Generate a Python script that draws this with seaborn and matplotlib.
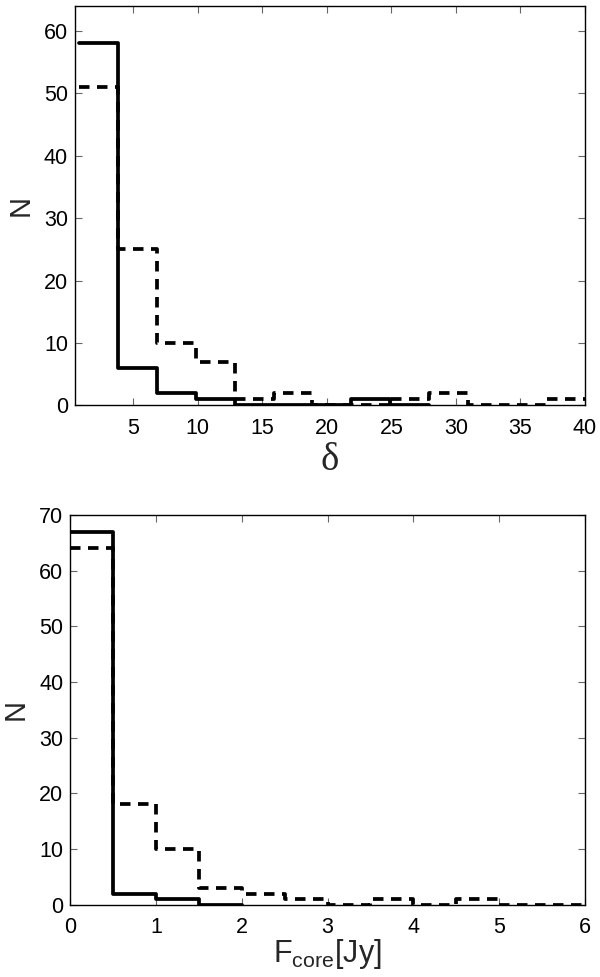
import numpy as np
import pandas as pd
import matplotlib
matplotlib.use("Agg")
import matplotlib.pyplot as plt
import seaborn as sns

# ---- data ----
delta_edges = [0.8, 3.815, 6.831, 9.846, 12.862, 15.877, 18.892, 21.908,
               24.923, 27.938, 30.954, 33.969, 36.985, 40.0]
delta_solid = [58, 6, 2, 1, 0, 0, 0, 1, 0]
delta_dashed = [51, 25, 10, 7, 1, 2, 0, 0, 1, 2, 0, 0, 1]

flux_edges = [0, 0.5, 1, 1.5, 2, 2.5, 3, 3.5, 4, 4.5, 5, 5.5, 6]
flux_solid = [67, 2, 1, 0]
flux_dashed = [64, 18, 10, 3, 2, 1, 0, 1, 0, 1, 0, 0]

sns.set_theme(style="white")
plt.rcParams['font.family'] = ['Liberation Sans', 'DejaVu Sans']
plt.rcParams['mathtext.default'] = 'regular'

fig = plt.figure(figsize=(6, 9.77), dpi=100)
ax1 = fig.add_axes([0.125, 0.585, 0.85, 0.409])
ax2 = fig.add_axes([0.117, 0.074, 0.858, 0.399])

def draw(ax, edges, solid, dashed):
    e = np.asarray(edges, dtype=float)
    centers = (e[:-1] + e[1:]) / 2
    d_df = pd.DataFrame({"x": centers[:len(dashed)], "w": np.asarray(dashed, dtype=float)})
    s_df = pd.DataFrame({"x": centers[:len(solid)], "w": np.asarray(solid, dtype=float)})
    sns.histplot(data=s_df, x="x", weights="w", bins=list(e[:len(solid) + 1]),
                 element="step", fill=False, color="black", lw=2.7, ax=ax)
    sns.histplot(data=d_df, x="x", weights="w", bins=list(e[:len(dashed) + 1]),
                 element="step", fill=False, color="black", lw=2.7,
                 linestyle=(0, (2.8, 2.0)), ax=ax)

draw(ax1, delta_edges, delta_solid, delta_dashed)
draw(ax2, flux_edges, flux_solid, flux_dashed)

ax1.set_xlim(0.5, 40)
ax1.set_ylim(0, 64)
ax1.set_xticks(range(5, 41, 5))
ax1.set_yticks(range(0, 61, 10))
ax2.set_xlim(0, 6)
ax2.set_ylim(0, 70)
ax2.set_xticks(range(0, 7))
ax2.set_yticks(range(0, 71, 10))

for ax in (ax1, ax2):
    ax.tick_params(direction="in", length=5, width=0.8, labelsize=15.5,
                   top=True, right=True, bottom=True, left=True, color="0.4",
                   labelcolor="black", pad=5)
    ax.tick_params(axis="x", pad=9)
    for sp in ax.spines.values():
        sp.set_visible(True)
        sp.set_color("black")
        sp.set_linewidth(1.0)
    ax.set_ylabel("N", fontsize=21, labelpad=7)

ax1.set_xlabel("δ", fontsize=28, family=["Liberation Serif", "DejaVu Serif"], labelpad=2)
ax2.set_xlabel("F$_{core}$[Jy]", fontsize=22, labelpad=-1)

fig.savefig("out.png", dpi=100, facecolor="white")
